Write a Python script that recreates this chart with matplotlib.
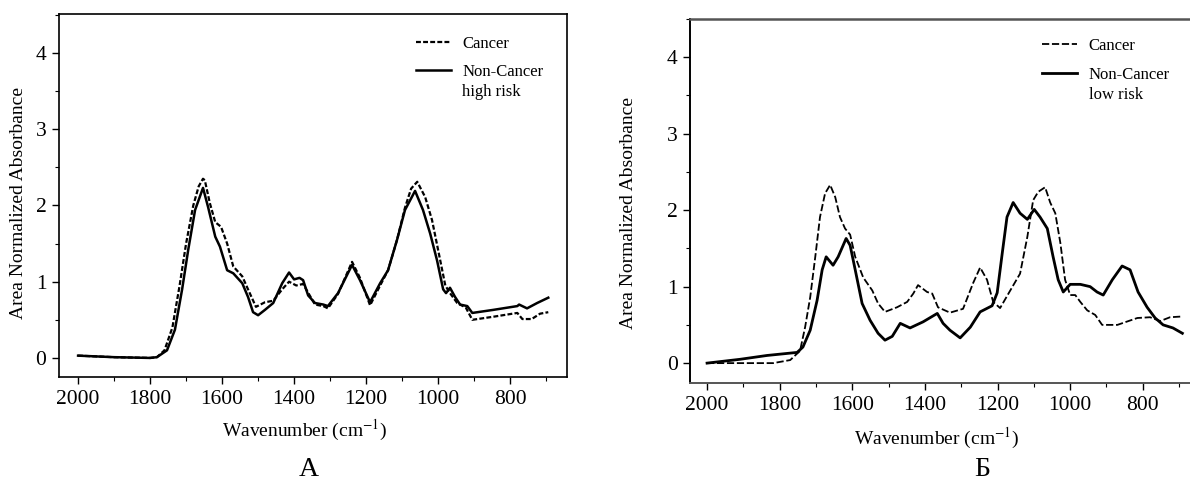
import matplotlib
matplotlib.use("Agg")
import matplotlib.pyplot as plt
from matplotlib.ticker import MultipleLocator

plt.rcParams['font.family'] = ['Liberation Serif', 'DejaVu Serif']
plt.rcParams['mathtext.fontset'] = 'stix'

# panel A: cancer vs non-cancer high risk
a_cancer_x = [2000, 1900, 1800, 1781, 1760, 1738, 1718, 1700, 1680, 1665, 1653, 1648, 1634, 1619,
              1603, 1586, 1569, 1544, 1528, 1506, 1481, 1458, 1433, 1414, 1394, 1375, 1342, 1319,
              1306, 1278, 1239, 1217, 1189, 1161, 1139, 1114, 1092, 1075, 1058, 1036, 1017, 998,
              980, 967, 947, 923, 905, 847, 780, 766, 740, 717, 694]
a_cancer_y = [0.03, 0.01, 0.0, 0.01, 0.1, 0.4, 0.95, 1.5, 2.0, 2.25, 2.35, 2.33, 2.03, 1.78,
              1.72, 1.5, 1.2, 1.07, 0.9, 0.67, 0.73, 0.75, 0.9, 1.0, 0.95, 0.97, 0.7, 0.68,
              0.65, 0.84, 1.26, 1.05, 0.69, 0.95, 1.15, 1.55, 1.97, 2.22, 2.31, 2.11, 1.81, 1.37,
              0.95, 0.85, 0.72, 0.66, 0.5, 0.54, 0.59, 0.51, 0.51, 0.58, 0.6]

a_high_x = [2000, 1900, 1800, 1781, 1753, 1731, 1711, 1694, 1675, 1653, 1639, 1619, 1606, 1586,
            1569, 1544, 1528, 1514, 1500, 1481, 1458, 1433, 1414, 1400, 1385, 1375, 1361, 1342,
            1319, 1306, 1278, 1239, 1217, 1189, 1161, 1139, 1114, 1092, 1064, 1042, 1022, 1003,
            986, 978, 967, 953, 939, 919, 905, 847, 780, 775, 753, 725, 694]
a_high_y = [0.03, 0.01, 0.0, 0.01, 0.1, 0.37, 0.9, 1.42, 1.94, 2.23, 1.98, 1.59, 1.46, 1.15,
            1.11, 0.98, 0.8, 0.6, 0.56, 0.63, 0.72, 0.98, 1.12, 1.03, 1.05, 1.02, 0.82, 0.72,
            0.7, 0.68, 0.85, 1.22, 1.02, 0.73, 0.98, 1.15, 1.55, 1.94, 2.19, 1.94, 1.63, 1.28,
            0.9, 0.85, 0.92, 0.8, 0.7, 0.68, 0.59, 0.63, 0.68, 0.7, 0.65, 0.72, 0.79]

# panel B: cancer vs non-cancer low risk
b_cancer_x = [2000, 1909, 1818, 1771, 1744, 1730, 1716, 1702, 1689, 1675, 1661, 1647, 1634, 1620,
              1606, 1592, 1570, 1545, 1529, 1510, 1477, 1449, 1432, 1419, 1394, 1380, 1364, 1331,
              1295, 1267, 1248, 1229, 1212, 1193, 1165, 1138, 1118, 1102, 1088, 1069, 1055, 1041,
              1027, 1014, 1000, 986, 972, 953, 931, 912, 870, 815, 780, 752, 725, 691]
b_cancer_y = [0.0, 0.0, 0.0, 0.04, 0.16, 0.47, 0.86, 1.39, 1.91, 2.22, 2.33, 2.17, 1.91, 1.76,
              1.68, 1.39, 1.12, 0.95, 0.78, 0.67, 0.73, 0.8, 0.91, 1.02, 0.93, 0.91, 0.73, 0.66,
              0.71, 1.05, 1.25, 1.09, 0.8, 0.72, 0.95, 1.17, 1.65, 2.13, 2.24, 2.3, 2.1, 1.96,
              1.57, 1.09, 0.89, 0.89, 0.8, 0.69, 0.63, 0.5, 0.5, 0.59, 0.6, 0.55, 0.6, 0.61]

b_low_x = [2000, 1909, 1835, 1752, 1736, 1716, 1697, 1683, 1672, 1653, 1639, 1617, 1606, 1592,
           1573, 1551, 1529, 1510, 1490, 1468, 1441, 1405, 1366, 1350, 1331, 1303, 1275, 1248,
           1215, 1201, 1187, 1174, 1157, 1138, 1118, 1099, 1083, 1063, 1047, 1033, 1019, 1000,
           972, 945, 926, 909, 884, 857, 835, 813, 788, 766, 744, 717, 691]
b_low_y = [0.0, 0.05, 0.1, 0.14, 0.21, 0.43, 0.82, 1.22, 1.39, 1.28, 1.39, 1.63, 1.54, 1.22,
           0.78, 0.56, 0.39, 0.3, 0.35, 0.52, 0.46, 0.54, 0.65, 0.52, 0.43, 0.33, 0.47, 0.67,
           0.75, 0.92, 1.44, 1.91, 2.1, 1.96, 1.88, 2.01, 1.91, 1.76, 1.39, 1.09, 0.93, 1.03,
           1.03, 1.0, 0.93, 0.89, 1.09, 1.27, 1.22, 0.93, 0.73, 0.59, 0.5, 0.46, 0.39]

x_ticks = [2000, 1800, 1600, 1400, 1200, 1000, 800]
y_ticks = [0, 1, 2, 3, 4]

fig = plt.figure(figsize=(11.9, 4.82), dpi=100)

ax1 = fig.add_axes([59 / 1190, 105 / 482, 508 / 1190, 363 / 482])
ax2 = fig.add_axes([690 / 1190, 99 / 482, 500 / 1190, 364 / 482])

ax1.plot(a_cancer_x, a_cancer_y, color='k', lw=1.6, dashes=(2.2, 1.0), label='Cancer')
ax1.plot(a_high_x, a_high_y, color='k', lw=1.8, label='Non-Cancer')
ax1.set_xlim(2053, 642)
ax1.set_ylim(-0.25, 4.51)

ax2.plot(b_cancer_x, b_cancer_y, color='k', lw=1.3, dashes=(4, 1.5), label='Cancer')
ax2.plot(b_low_x, b_low_y, color='k', lw=2.0, label='Non-Cancer')
ax2.set_xlim(2047, 670)
ax2.set_ylim(-0.26, 4.5)

for ax in (ax1, ax2):
    ax.set_xticks(x_ticks)
    ax.set_yticks(y_ticks)
    ax.xaxis.set_minor_locator(MultipleLocator(100))
    ax.yaxis.set_minor_locator(MultipleLocator(0.5))
    ax.tick_params(which='major', direction='out', length=5, width=1.0, labelsize=15.5, pad=4)
    ax.tick_params(which='minor', direction='out', length=3, width=0.8)
    ax.set_xlabel('Wavenumber (cm$^{-1}$)', fontsize=14)
    ax.set_ylabel('Area Normalized Absorbance', fontsize=14)

ax1.xaxis.set_label_coords(0.484, -0.113)
ax1.yaxis.set_label_coords(-0.063, 0.48)
ax2.xaxis.set_label_coords(0.494, -0.118)
ax2.yaxis.set_label_coords(-0.106, 0.467)

for s in ax1.spines.values():
    s.set_linewidth(1.2)
ax2.spines['right'].set_visible(False)
ax2.spines['left'].set_linewidth(1.4)
ax2.spines['top'].set_color('#555555')
ax2.spines['top'].set_linewidth(1.8)
ax2.spines['bottom'].set_color('#555555')
ax2.spines['bottom'].set_linewidth(1.4)

ax1.legend(loc='upper left', bbox_to_anchor=(0.703, 0.94), frameon=False, fontsize=12,
           handlelength=2.1, handletextpad=0.7, labelspacing=0.75, borderpad=0, borderaxespad=0)
ax1.text(0.793, 0.785, 'high risk', transform=ax1.transAxes, fontsize=12, va='center')
ax2.legend(loc='upper left', bbox_to_anchor=(0.704, 0.947), frameon=False, fontsize=12,
           handlelength=2.1, handletextpad=0.7, labelspacing=0.75, borderpad=0, borderaxespad=0)
ax2.text(0.798, 0.791, 'low risk', transform=ax2.transAxes, fontsize=12, va='center')

fig.text(309 / 1190, 1 - 470 / 482, 'А', fontsize=20, ha='center', va='center')
fig.text(982 / 1190, 1 - 470 / 482, 'Б', fontsize=20, ha='center', va='center')

fig.savefig('out.png', dpi=100)
